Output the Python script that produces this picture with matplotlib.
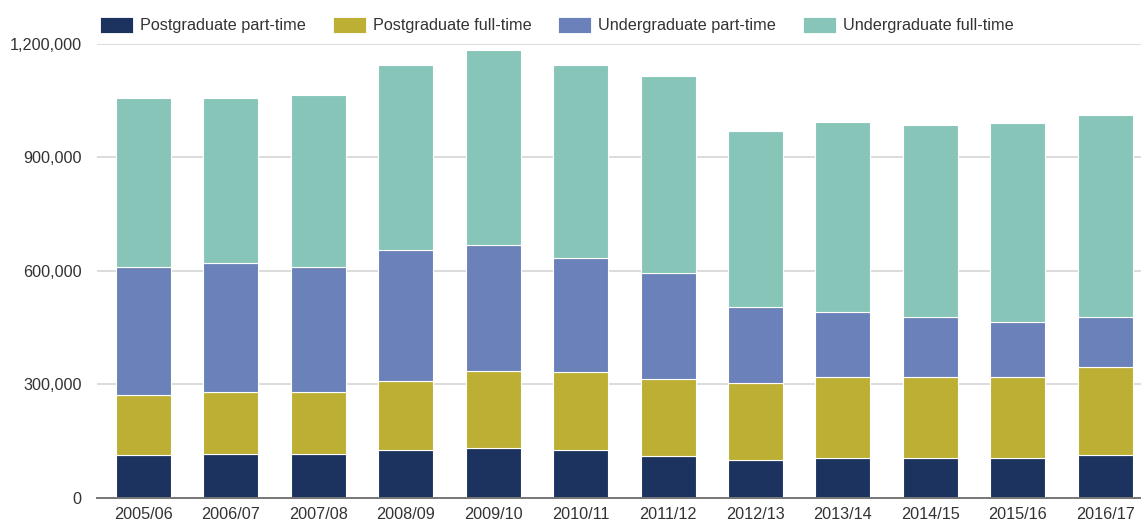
import numpy as np
import matplotlib
matplotlib.use("Agg")
import matplotlib.pyplot as plt
from matplotlib.patches import Rectangle
from matplotlib.ticker import FuncFormatter

plt.rcParams["font.family"] = ["Liberation Sans", "DejaVu Sans"]

# -------------------------------------------------------
# Student numbers by level and mode of study
# -------------------------------------------------------
years = ["2005/06", "2006/07", "2007/08", "2008/09", "2009/10", "2010/11",
         "2011/12", "2012/13", "2013/14", "2014/15", "2015/16", "2016/17"]

pg_part_time = [113000, 116000, 116000, 126000, 131000, 126000,
                109000, 100000, 105000, 105000, 105000, 112000]
pg_full_time = [158000, 163000, 163000, 182000, 203000, 207000,
                206000, 203000, 213000, 213000, 213000, 233000]
ug_part_time = [339000, 341000, 331000, 346000, 334000, 302000,
                280000, 202000, 173000, 159000, 148000, 132000]
ug_full_time = [446000, 436000, 456000, 490000, 515000, 509000,
                520000, 466000, 502000, 510000, 524000, 535000]

series = [
    ("Postgraduate part-time", pg_part_time, "#1c325f"),
    ("Postgraduate full-time", pg_full_time, "#bcaf34"),
    ("Undergraduate part-time", ug_part_time, "#6a81b9"),
    ("Undergraduate full-time", ug_full_time, "#86c5b8"),
]

W, H = 1141, 525

# -------------------------------------------------------
# Stacked bar chart
# -------------------------------------------------------
fig = plt.figure(figsize=(W / 100, H / 100), dpi=100)
ax = fig.add_axes([97 / W, 27.3 / H, 1044 / W, 453.7 / H])

x = np.arange(len(years))
bottom = np.zeros(len(years))
for name, values, color in series:
    ax.bar(x, values, width=0.63, bottom=bottom, color=color, label=name,
           edgecolor="white", linewidth=0.8, zorder=3)
    bottom += np.array(values)

ax.set_xlim(-0.532, 11.41)
ax.set_ylim(0, 1200000)
ax.set_yticks([0, 300000, 600000, 900000, 1200000])
ax.yaxis.set_major_formatter(FuncFormatter(lambda v, p: f"{int(v):,}"))
ax.set_xticks(x)
ax.set_xticklabels(years)

ax.grid(axis="y", color="#d6d6d6", linewidth=1.2, zorder=0)
for side in ["top", "right", "left"]:
    ax.spines[side].set_visible(False)
ax.spines["bottom"].set_color("#777777")
ax.spines["bottom"].set_linewidth(1.4)
ax.spines["bottom"].set_zorder(4)

ax.tick_params(axis="both", length=0, labelsize=11.7, labelcolor="#333333")
ax.tick_params(axis="y", pad=11)
ax.tick_params(axis="x", pad=7)

# Legend row along the top, one swatch + label per series
legend_x = [100, 333, 558, 803]
for (name, values, color), lx in zip(series, legend_x):
    fig.patches.append(Rectangle((lx / W, 1 - 33.3 / H), 33 / W, 16.6 / H,
                                 transform=fig.transFigure, facecolor=color,
                                 edgecolor="white", linewidth=0.6))
    fig.text((lx + 40) / W, 1 - 25.5 / H, name, fontsize=11.7,
             color="#333333", va="center", ha="left")

fig.savefig("out.png", dpi=100)
